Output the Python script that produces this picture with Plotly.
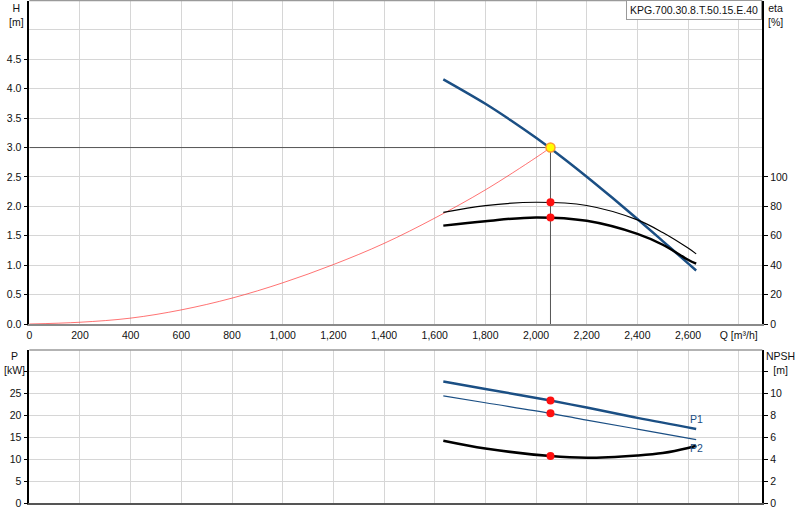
import plotly.graph_objects as go

# ---------------- data ----------------
Q_TICKS = [0, 200, 400, 600, 800, 1000, 1200, 1400, 1600, 1800, 2000, 2200, 2400, 2600, 2800]
Q_TICKTEXT = ["0", "200", "400", "600", "800", "1,000", "1,200", "1,400", "1,600",
              "1,800", "2,000", "2,200", "2,400", "2,600", "Q [m³/h]"]
H_TICKS = [0.0, 0.5, 1.0, 1.5, 2.0, 2.5, 3.0, 3.5, 4.0, 4.5]
ETA_TICKS = [0, 20, 40, 60, 80, 100]
P_TICKS = [0, 5, 10, 15, 20, 25, 30]
P_TICKTEXT = ["0", "5", "10", "15", "20", "25", ""]
NPSH_TICKS = [0, 2, 4, 6, 8, 10, 12]
NPSH_TICKTEXT = ["0", "2", "4", "6", "8", "10", ""]

# pump head curve
H_Q = [1634, 1800, 1900, 2000, 2100, 2200, 2300, 2400, 2500, 2600, 2632]
H_M = [4.16, 3.745, 3.465, 3.165, 2.845, 2.505, 2.15, 1.785, 1.41, 1.03, 0.91]

# system curve
SYS_Q = [0, 200, 400, 600, 800, 1000, 1200, 1400, 1600, 1800, 2000, 2057]
SYS_H = [0.0, 0.03, 0.10, 0.24, 0.44, 0.70, 1.01, 1.37, 1.80, 2.28, 2.83, 3.0]

# efficiency curves
ETA_Q = [1634, 1800, 2000, 2200, 2400, 2500, 2600, 2632]
ETA_HYD = [75.9, 80.5, 82.8, 80.6, 70.8, 62.2, 51.6, 47.7]
ETA_TOT = [66.9, 69.9, 72.5, 70.2, 61.3, 53.9, 43.7, 41.0]

# power & NPSH curves
P_Q = [1634, 1800, 2057, 2200, 2400, 2632]
P1 = [27.82, 26.1, 23.46, 21.85, 19.5, 16.97]
P2 = [24.54, 22.95, 20.55, 18.99, 16.95, 14.52]
NPSH_Q = [1634, 1800, 2057, 2200, 2400, 2500, 2600, 2632]
NPSH = [5.72, 5.01, 4.31, 4.16, 4.37, 4.59, 5.05, 5.26]

# duty point
DUTY_Q = 2057
DUTY_H = 3.0
DUTY_ETA = [82.8, 72.4]
DUTY_P = [23.46, 20.55]
DUTY_NPSH = 4.31

TITLE = "KPG.700.30.8.T.50.15.E.40"

# ---------------- figure ----------------
BLUE = "#1b4f84"
FONT = "Liberation Sans"
FS = 10.5
W, H = 800, 520
XL, XR = 29.3 / W, 762.3 / W
TOP_Y = [1 - 324.0 / H, 1 - 0.5 / H]
BOT_Y = [1 - 503.3 / H, 1 - 350.0 / H]

fig = go.Figure()

# duty lines
fig.add_trace(go.Scatter(x=[0, DUTY_Q], y=[DUTY_H, DUTY_H], mode="lines",
                         line=dict(color="#555555", width=1), xaxis="x", yaxis="y", hoverinfo="skip"))
fig.add_trace(go.Scatter(x=[DUTY_Q, DUTY_Q], y=[0, DUTY_H], mode="lines",
                         line=dict(color="#555555", width=1), xaxis="x", yaxis="y", hoverinfo="skip"))
# system curve
fig.add_trace(go.Scatter(x=SYS_Q, y=SYS_H, mode="lines", line_shape="spline",
                         line=dict(color="rgba(255,40,40,0.65)", width=1), xaxis="x", yaxis="y"))
# efficiency curves
fig.add_trace(go.Scatter(x=ETA_Q, y=ETA_HYD, mode="lines", line_shape="spline",
                         line=dict(color="black", width=1.2), xaxis="x", yaxis="y2"))
fig.add_trace(go.Scatter(x=ETA_Q, y=ETA_TOT, mode="lines", line_shape="spline",
                         line=dict(color="black", width=2.5), xaxis="x", yaxis="y2"))
fig.add_trace(go.Scatter(x=[DUTY_Q, DUTY_Q], y=DUTY_ETA, mode="markers",
                         marker=dict(color="#ff1010", size=8), xaxis="x", yaxis="y2"))
# head curve
fig.add_trace(go.Scatter(x=H_Q, y=H_M, mode="lines", line_shape="spline",
                         line=dict(color=BLUE, width=2.5), xaxis="x", yaxis="y"))
fig.add_trace(go.Scatter(x=[DUTY_Q], y=[DUTY_H], mode="markers",
                         marker=dict(color="#ffff00", size=9, line=dict(color="#ff9a30", width=1.5)),
                         xaxis="x", yaxis="y"))

# bottom: power curves
fig.add_trace(go.Scatter(x=P_Q, y=P1, mode="lines", line_shape="spline",
                         line=dict(color=BLUE, width=2.5), xaxis="x2", yaxis="y3"))
fig.add_trace(go.Scatter(x=P_Q, y=P2, mode="lines", line_shape="spline",
                         line=dict(color=BLUE, width=1.2), xaxis="x2", yaxis="y3"))
fig.add_trace(go.Scatter(x=[DUTY_Q, DUTY_Q], y=DUTY_P, mode="markers",
                         marker=dict(color="#ff1010", size=8), xaxis="x2", yaxis="y3"))
fig.add_trace(go.Scatter(x=NPSH_Q, y=NPSH, mode="lines", line_shape="spline",
                         line=dict(color="black", width=2.5), xaxis="x2", yaxis="y4"))
fig.add_trace(go.Scatter(x=[DUTY_Q], y=[DUTY_NPSH], mode="markers",
                         marker=dict(color="#ff1010", size=8), xaxis="x2", yaxis="y4"))

GRID = "#d6d6d6"
tickfont = dict(family=FONT, size=FS, color="#111111")

fig.update_layout(
    width=W, height=H,
    margin=dict(l=0, r=0, t=0, b=0),
    paper_bgcolor="white", plot_bgcolor="white",
    showlegend=False,
    font=dict(family=FONT, size=FS, color="#111111"),
    xaxis=dict(domain=[XL, XR], range=[0, 2893], anchor="y", automargin=False,
               tickmode="array", tickvals=Q_TICKS, ticktext=Q_TICKTEXT,
               showgrid=True, gridcolor=GRID, gridwidth=1, zeroline=False,
               showline=True, linecolor="#8a8a8a", linewidth=2, ticks="",
               tickfont=tickfont),
    yaxis=dict(domain=TOP_Y, range=[0, 5.5], anchor="x", automargin=False,
               tickmode="array", tickvals=H_TICKS, ticktext=[f"{v:.1f}" for v in H_TICKS],
               showgrid=True, gridcolor=GRID, zeroline=False,
               minor=dict(tickmode="array", tickvals=[5.0], showgrid=True, gridcolor=GRID),
               showline=True, linecolor="black", linewidth=1.5,
               ticks="outside", ticklen=4, tickcolor="black", tickfont=tickfont),
    yaxis2=dict(overlaying="y", side="right", anchor="x", range=[0, 220], automargin=False,
                tickmode="array", tickvals=ETA_TICKS, showgrid=False, zeroline=False,
                showline=True, linecolor="black", linewidth=1.5,
                ticks="outside", ticklen=4, tickcolor="black", tickfont=tickfont),
    xaxis2=dict(domain=[XL, XR], range=[0, 2893], anchor="y3", automargin=False,
                tickmode="array", tickvals=Q_TICKS, showticklabels=False,
                showgrid=True, gridcolor=GRID, zeroline=False,
                showline=True, linecolor="#555555", linewidth=2, ticks=""),
    yaxis3=dict(domain=BOT_Y, range=[0, 35], anchor="x2", automargin=False,
                tickmode="array", tickvals=P_TICKS, ticktext=P_TICKTEXT,
                showgrid=True, gridcolor=GRID, zeroline=False,
                showline=True, linecolor="black", linewidth=1.5,
                ticks="outside", ticklen=4, tickcolor="black", tickfont=tickfont),
    yaxis4=dict(overlaying="y3", side="right", anchor="x2", range=[0, 14], automargin=False,
                tickmode="array", tickvals=NPSH_TICKS, ticktext=NPSH_TICKTEXT,
                showgrid=False, zeroline=False,
                showline=True, linecolor="black", linewidth=1.5,
                ticks="outside", ticklen=4, tickcolor="black", tickfont=tickfont),
)

# top borders of the two plots
fig.add_shape(type="line", xref="x domain", yref="y domain", x0=0, x1=1, y0=1, y1=1,
              line=dict(color="#9a9a9a", width=1.5))
fig.add_shape(type="line", xref="x2 domain", yref="y3 domain", x0=0, x1=1, y0=1, y1=1,
              line=dict(color="#9a9a9a", width=1.5))

ann = dict(showarrow=False, font=dict(family=FONT, size=FS, color="#111111"))
fig.add_annotation(text=TITLE, xref="paper", yref="paper", x=XR, y=1.0,
                   xanchor="right", yanchor="top", bgcolor="white",
                   bordercolor="#9a9a9a", borderwidth=1, borderpad=3, **ann)
fig.add_annotation(text="H<br>[m]", xref="paper", yref="paper", x=16 / W, y=1.0,
                   xanchor="center", yanchor="top", **ann)
fig.add_annotation(text="eta<br>[%]", xref="paper", yref="paper", x=775 / W, y=1.0,
                   xanchor="center", yanchor="top", **ann)
fig.add_annotation(text="P<br>[kW]", xref="paper", yref="paper", x=14 / W, y=1 - 348 / H,
                   xanchor="center", yanchor="top", **ann)
fig.add_annotation(text="NPSH<br>[m]", xref="paper", yref="paper", x=780 / W, y=1 - 348 / H,
                   xanchor="center", yanchor="top", **ann)
fig.add_annotation(text="P1", xref="x2", yref="y3", x=P_Q[-1], y=P1[-1],
                   xanchor="center", yanchor="bottom", yshift=2,
                   showarrow=False, font=dict(family=FONT, size=FS, color=BLUE))
fig.add_annotation(text="P2", xref="x2", yref="y3", x=P_Q[-1], y=P2[-1],
                   xanchor="center", yanchor="top", yshift=0,
                   showarrow=False, font=dict(family=FONT, size=FS, color=BLUE))

fig.write_html("out.html", config={"displayModeBar": False},
               post_script="document.body.style.margin='0';")
